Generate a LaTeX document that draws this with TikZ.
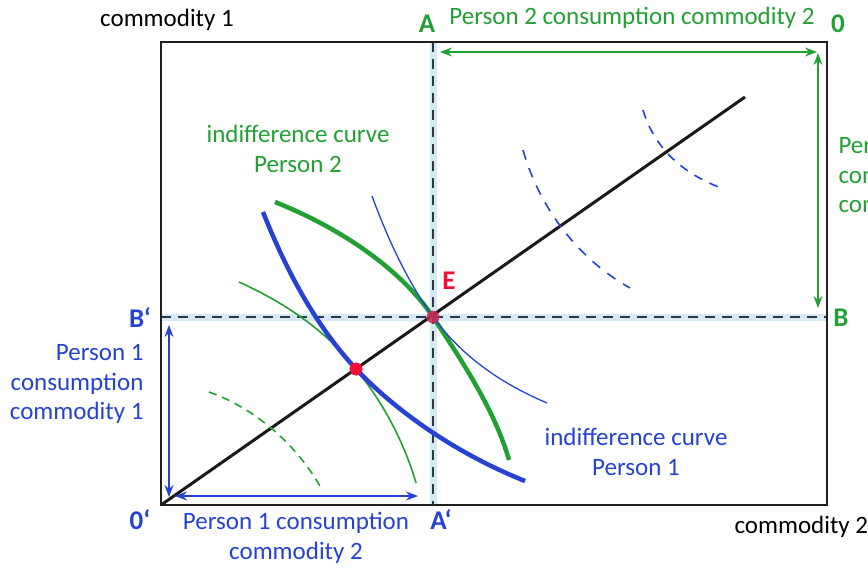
\documentclass[tikz,border=0pt]{standalone}
\usepackage{fontspec}
\setmainfont{Carlito}
\usetikzlibrary{arrows.meta}
\definecolor{econgreen}{RGB}{34,160,52}
\definecolor{econblue}{RGB}{38,66,210}
\definecolor{econred}{RGB}{240,16,56}
\definecolor{bandblue}{RGB}{214,234,246}
\definecolor{dashgray}{RGB}{45,55,70}
\begin{document}
\begin{tikzpicture}[x=1pt,y=-1pt,
  every node/.style={font=\fontsize{25}{29.5}\selectfont},
  ptlbl/.style={font=\fontsize{27}{29.5}\selectfont\bfseries},
  dbl/.style={{Stealth[length=12pt,width=9pt]}-{Stealth[length=12pt,width=9pt]},line width=1.3pt},
  guide/.style={dashgray,line width=2.2pt,dash pattern=on 10pt off 7pt},
  band/.style={bandblue,line width=7pt},
  dot/.style={circle,inner sep=0pt,minimum size=13pt}]
\useasboundingbox (0,0) rectangle (868,568);
\clip (0,0) rectangle (868,568);
% corners and key points (pixel grid, y down)
\coordinate (o1) at (161,505);
\coordinate (o2) at (827,42);
\coordinate (a) at (433,42);
\coordinate (ap) at (433,505);
\coordinate (b) at (827,317);
\coordinate (bp) at (161,317);
\coordinate (e) at (433,317);
\coordinate (d) at (356,369);
\coordinate (ray) at (745,97);
% guide lines through E
\draw[band] (a) -- (ap);
\draw[band] (bp) -- (b);
\draw[guide] (a) -- (ap);
\draw[guide] (bp) -- (b);
% Edgeworth box
\draw[black!88,line width=2pt] (o1) rectangle (o2);
% contract curve
\draw[black!90,line width=3pt] (o1) -- (ray);
% indifference curves, person 2 (green)
\draw[econgreen,line width=4.5pt] (275,202) .. controls (350,232) and (405,275) .. (e) .. controls (460,358) and (495,410) .. (509,460);
\draw[econgreen,line width=1.6pt] (239,282) .. controls (290,305) and (330,335) .. (d) .. controls (385,405) and (405,445) .. (416,483);
\draw[econgreen,line width=1.6pt,dash pattern=on 8pt off 6pt] (209,392) .. controls (260,410) and (300,450) .. (321,488);
% indifference curves, person 1 (blue)
\draw[econblue,line width=4.5pt] (263,212) .. controls (290,280) and (320,330) .. (d) .. controls (400,415) and (460,455) .. (525,481);
\draw[econblue,line width=1.3pt] (372,196) .. controls (390,245) and (410,285) .. (e) .. controls (465,360) and (505,385) .. (547,403);
\draw[econblue,line width=1.6pt,dash pattern=on 10pt off 9pt] (523,150) .. controls (540,210) and (580,260) .. (630,288);
\draw[econblue,line width=1.6pt,dash pattern=on 9pt off 8pt] (643,110) .. controls (655,150) and (685,175) .. (724,189);
% consumption arrows
\coordinate (g1) at (440,52); \coordinate (g2) at (817,52);
\coordinate (g3) at (818,53); \coordinate (g4) at (818,308);
\coordinate (u1) at (169,325); \coordinate (u2) at (169,497);
\coordinate (u3) at (175,496); \coordinate (u4) at (418,496);
\draw[dbl,econgreen] (g1) -- (g2);
\draw[dbl,econgreen] (g3) -- (g4);
\draw[dbl,econblue] (u1) -- (u2);
\draw[dbl,econblue] (u3) -- (u4);
% equilibrium points
\node[dot,fill={rgb,255:red,205;green,40;blue,85},opacity=0.85] (E) at (e) {};
\node[dot,fill=econred] (D) at (d) {};
\node[ptlbl,econred] (lblE) at (449,281) {E};
% point labels
\node[ptlbl,econgreen] (lblA) at (427,24) {A};
\node[ptlbl,econgreen] (lblO) at (838,24) {0};
\node[ptlbl,econgreen] (lblB) at (841,318) {B};
\node[ptlbl,econblue] (lblBp) at (140,318) {B‘};
\node[ptlbl,econblue] (lblOp) at (140,520) {0‘};
\node[ptlbl,econblue] (lblAp) at (441,520) {A‘};
% texts
\node (ax1) at (167,20) {commodity 1};
\node[anchor=west] (ax2) at (731,527) {commodity 2};
\node[econgreen] (p2c2) at (632,18) {Person 2 consumption commodity 2};
\node[econgreen,align=left,anchor=west] (p2c1) at (835,177) {Person 2\\consumption\\commodity 1};
\node[econblue,align=right,anchor=east] (p1c1) at (147,384) {Person 1\\consumption\\commodity 1};
\node[econblue,align=center] (p1c2) at (296,538) {Person 1 consumption\\commodity 2};
\node[econgreen,align=center] (ic2) at (298,149) {indifference curve\\Person 2};
\node[econblue,align=center] (ic1) at (636,452) {indifference curve\\Person 1};
\end{tikzpicture}
\end{document}
